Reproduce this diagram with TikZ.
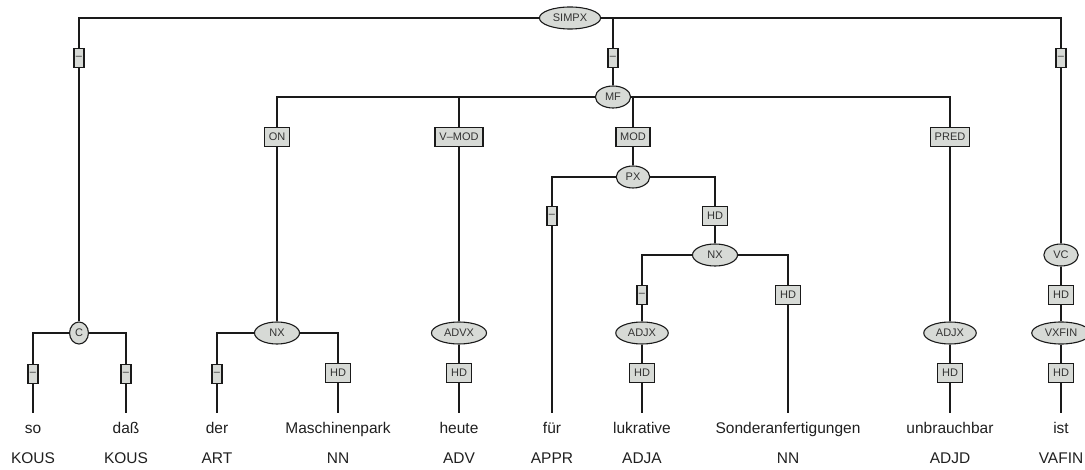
\documentclass[tikz,border=0pt]{standalone}
\usepackage{fontspec}
\setmainfont{Liberation Sans}
\usetikzlibrary{shapes.geometric, backgrounds}
\definecolor{TRfill}{HTML}{D7DAD6}
\definecolor{TRedge}{HTML}{1A1A1A}
\definecolor{TRtext}{HTML}{333333}
\definecolor{TRword}{HTML}{1F1F1F}

\begin{document}
\begin{tikzpicture}[
    x=1pt, y=-1pt,
    cat/.style={ellipse, draw=TRedge, line width=1.1pt, fill=TRfill, text=TRtext,
                font=\fontsize{11}{12}\selectfont, inner xsep=4.5pt, inner ysep=0pt,
                minimum height=22pt},
    fn/.style={rectangle, draw=TRedge, line width=1.3pt, fill=TRfill, text=TRtext,
               font=\fontsize{11}{12}\selectfont, inner xsep=4.3pt, inner ysep=0pt,
               minimum height=18.5pt},
    nofn/.style={fn, inner xsep=2pt},
    word/.style={font=\fontsize{15.5}{18}\selectfont, text=TRword, anchor=base,
                 text height=11.5pt, text depth=3.5pt, inner xsep=0pt, inner ysep=8.3pt},
    postag/.style={font=\fontsize{15.5}{18}\selectfont, text=TRword, anchor=base},
    branch/.style={draw=TRedge, line width=1.3pt},
]
\useasboundingbox (0,0) rectangle (1085,470);

% --- Terminals: word row (baseline y = 433) and POS row (baseline y = 463) ---
\foreach \x/\w/\t [count=\i] in {33/so/KOUS, 126/daß/KOUS, 217/der/ART,
        338/Maschinenpark/NN, 459/heute/ADV, 552/für/APPR, 642/lukrative/ADJA,
        788/Sonderanfertigungen/NN, 950/unbrauchbar/ADJD, 1061/ist/VAFIN} {
    \node[word] (w\i) at (\x, 433) {\w};
    \node[postag] (t\i) at (\x, 463) {\t};
}

% --- Phrase nodes (rows at y = 18, 97, 177, 255, 333) ---
\node[cat] (simpx) at (570, 18) {SIMPX};
\node[cat] (mf) at (613, 97) {MF};
\node[cat] (px) at (633, 177) {PX};
\node[cat, minimum width=45pt] (nxb) at (715, 255) {NX};
\node[cat] (vc) at (1061, 255) {VC};
\node[cat, inner xsep=2.7pt] (c) at (79, 333) {C};
\node[cat, minimum width=45pt] (nxa) at (277, 333) {NX};
\node[cat] (advx) at (459, 333) {ADVX};
\node[cat] (adjxa) at (642, 333) {ADJX};
\node[cat] (adjxb) at (950, 333) {ADJX};
\node[cat] (vxfin) at (1061, 333) {VXFIN};

% --- Edge labels, 40px below the parent row ---
\node[nofn] (simpx-c) at (79, 58) {--};
\node[nofn] (simpx-mf) at (613, 58) {--};
\node[nofn] (simpx-vc) at (1061, 58) {--};
\node[fn] (mf-on) at (277, 137) {ON};
\node[fn] (mf-vmod) at (459, 137) {V--MOD};
\node[fn] (mf-mod) at (633, 137) {MOD};
\node[fn] (mf-pred) at (950, 137) {PRED};
\node[nofn] (px-fuer) at (552, 216) {--};
\node[fn] (px-hd) at (715, 216) {HD};
\node[nofn] (nxb-adjx) at (642, 295) {--};
\node[fn] (nxb-hd) at (788, 295) {HD};
\node[fn] (vc-hd) at (1061, 295) {HD};
\node[nofn] (c-so) at (33, 374) {--};
\node[nofn] (c-dass) at (126, 374) {--};
\node[nofn] (nxa-der) at (217, 374) {--};
\node[fn] (nxa-hd) at (338, 373) {HD};
\node[fn] (advx-hd) at (459, 373) {HD};
\node[fn] (adjxa-hd) at (642, 373) {HD};
\node[fn] (adjxb-hd) at (950, 373) {HD};
\node[fn] (vxfin-hd) at (1061, 373) {HD};

% --- Branches (behind the nodes) ---
\begin{scope}[on background layer]
    \draw[branch] (simpx) -| (simpx-c) -- (c);
    \draw[branch] (simpx) -| (simpx-mf) -- (mf);
    \draw[branch] (simpx) -| (simpx-vc) -- (vc);
    \draw[branch] (mf) -| (mf-on) -- (nxa);
    \draw[branch] (mf) -| (mf-vmod) -- (advx);
    \draw[branch] (mf) -| (mf-mod) -- (px);
    \draw[branch] (mf) -| (mf-pred) -- (adjxb);
    \draw[branch] (px) -| (px-fuer) -- (w6);
    \draw[branch] (px) -| (px-hd) -- (nxb);
    \draw[branch] (nxb) -| (nxb-adjx) -- (adjxa);
    \draw[branch] (nxb) -| (nxb-hd) -- (w8);
    \draw[branch] (vc) -- (vc-hd) -- (vxfin);
    \draw[branch] (c) -| (c-so) -- (w1);
    \draw[branch] (c) -| (c-dass) -- (w2);
    \draw[branch] (nxa) -| (nxa-der) -- (w3);
    \draw[branch] (nxa) -| (nxa-hd) -- (w4);
    \draw[branch] (advx) -- (advx-hd) -- (w5);
    \draw[branch] (adjxa) -- (adjxa-hd) -- (w7);
    \draw[branch] (adjxb) -- (adjxb-hd) -- (w9);
    \draw[branch] (vxfin) -- (vxfin-hd) -- (w10);
\end{scope}

\end{tikzpicture}
\end{document}
